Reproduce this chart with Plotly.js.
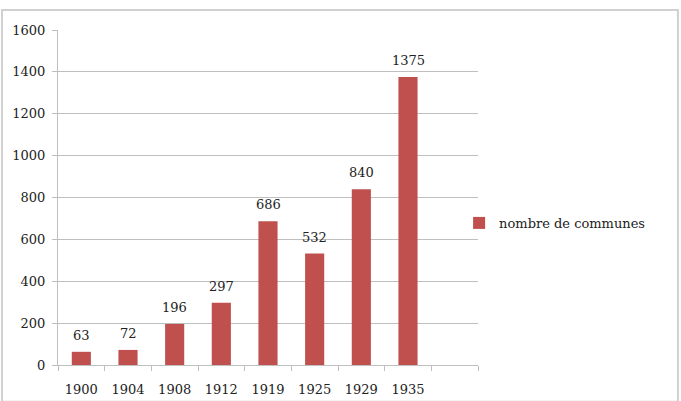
<!DOCTYPE html>
<html>
<head>
<meta charset="utf-8">
<script src="https://cdn.plot.ly/plotly-3.0.1.min.js"></script>
<style>
  html, body { margin: 0; padding: 0; background: #fff; }
  #chart { width: 681px; height: 401px; }
</style>
</head>
<body>
<div id="chart"></div>
<script>
const years = ['1900', '1904', '1908', '1912', '1919', '1925', '1929', '1935'];
const communes = [63, 72, 196, 297, 686, 532, 840, 1375];
const seriesName = 'nombre de communes';
const yTicks = [0, 200, 400, 600, 800, 1000, 1200, 1400, 1600];

const positions = years.map((_, i) => i);
const nSlots = years.length + 1; // one empty slot after the last year
const boundaries = [];
for (let i = 0; i <= nSlots; i++) boundaries.push(i - 0.5);

const FONT = 'DejaVu Serif, Liberation Serif, serif';

const trace = {
  type: 'bar',
  x: positions,
  y: communes,
  name: seriesName,
  marker: { color: '#C0504D' },
  showlegend: true
};

const labelAnnotations = communes.map((v, i) => ({
  x: positions[i],
  y: v,
  xref: 'x',
  yref: 'y',
  text: String(v),
  showarrow: false,
  xanchor: 'center',
  yanchor: 'bottom',
  yshift: 7,
  font: { family: FONT, size: 13, color: '#222' }
}));

const layout = {
  width: 681,
  height: 401,
  margin: { l: 58, r: 203, t: 30, b: 36 },
  paper_bgcolor: '#fff',
  plot_bgcolor: '#fff',
  font: { family: FONT, size: 13, color: '#222' },
  bargap: 0.59,
  showlegend: true,
  legend: {
    x: 0.955, xanchor: 'left',
    y: 0.424, yanchor: 'middle',
    font: { family: FONT, size: 13, color: '#222' },
    bgcolor: 'rgba(0,0,0,0)',
    itemwidth: 30
  },
  xaxis: {
    range: [-0.5, nSlots - 0.5],
    tickvals: positions,
    ticktext: years,
    ticks: '',
    ticklabelstandoff: 12,
    showgrid: false,
    zeroline: false,
    showline: true,
    linecolor: '#bfbfbf',
    linewidth: 1,
    minor: {
      tickvals: boundaries,
      ticks: 'outside',
      ticklen: 5,
      tickcolor: '#bfbfbf',
      showgrid: false
    },
    fixedrange: true
  },
  yaxis: {
    range: [0, 1600],
    tickvals: yTicks,
    ticks: 'outside',
    ticklen: 5,
    tickcolor: '#bfbfbf',
    ticklabelstandoff: 4,
    showgrid: true,
    gridcolor: '#bfbfbf',
    gridwidth: 1,
    zeroline: false,
    showline: true,
    linecolor: '#bfbfbf',
    linewidth: 1,
    fixedrange: true
  },
  annotations: labelAnnotations,
  shapes: [{
    type: 'rect',
    xref: 'paper', yref: 'paper',
    x0: -0.1333, x1: 1.476,
    y0: -0.11, y1: 1.0597,
    line: { color: '#d0d0d0', width: 2 },
    fillcolor: 'rgba(0,0,0,0)',
    layer: 'below'
  }]
};

Plotly.newPlot('chart', [trace], layout, { staticPlot: true, displayModeBar: false });
</script>
</body>
</html>
